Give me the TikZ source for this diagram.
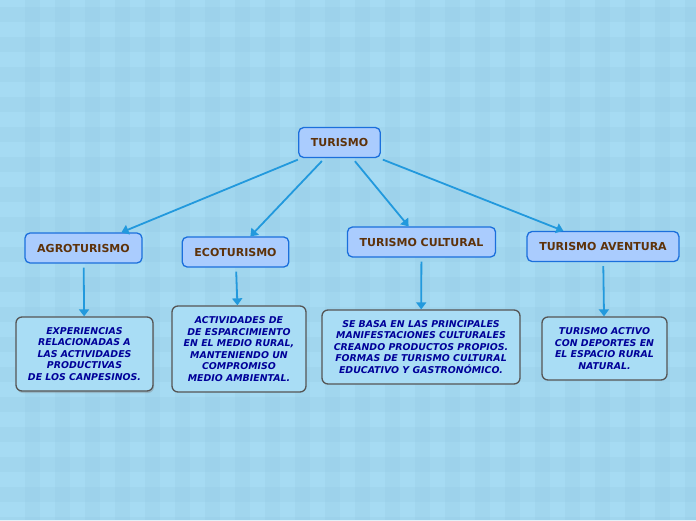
\documentclass[tikz,border=0pt]{standalone}
\usepackage{fontspec}
\setmainfont{DejaVu Sans}
\usepackage{xcolor}
\usetikzlibrary{arrows.meta,shadows}
\definecolor{bgblue}{HTML}{A6DBF3}
\definecolor{bgstripe}{HTML}{93C9E3}
\definecolor{boxfill}{HTML}{AACCFE}
\definecolor{boxline}{HTML}{1B6FDC}
\definecolor{titlebrown}{HTML}{5E320A}
\definecolor{leaftext}{HTML}{000099}
\definecolor{leafline}{HTML}{555555}
\definecolor{leaffill}{HTML}{A9DDF5}
\definecolor{arrowblue}{HTML}{2299DD}

\begin{document}
\begin{tikzpicture}[x=1pt,y=-1pt]

\tikzset{concept/.style={draw=boxline, line width=1.3pt, fill=boxfill, rounded corners=5pt,
            inner xsep=12.2pt, minimum height=30pt, text=titlebrown,
            font=\fontsize{11}{12}\selectfont\bfseries},
        detail/.style={draw=leafline, line width=1.3pt, fill=leaffill, rounded corners=6pt,
            align=center, text=leaftext, font=\fontsize{9.4}{11.5}\selectfont\bfseries\itshape},
        link/.style={draw=arrowblue, line width=1.8pt, -{Triangle[width=10pt,length=7pt]},
            shorten <=4pt}}

% background
\useasboundingbox (0,0) rectangle (696,520);
\fill[bgblue] (0,0) rectangle (696,520);
\foreach \s in {0,30,...,690} {
    \fill[bgstripe,opacity=0.25] (\s+25,0) rectangle (\s+40,520);
}
\foreach \s in {0,30,...,510} {
    \fill[bgstripe,opacity=0.25] (0,\s+7) rectangle (696,\s+22);
}

% main concepts
\node[concept] (turismo) at (339.5,142.5) {TURISMO};
\node[concept] (agro) at (83.5,248) {AGROTURISMO};
\node[concept] (eco) at (235.5,252) {ECOTURISMO};
\node[concept] (cultural) at (421.5,242) {TURISMO CULTURAL};
\node[concept] (aventura) at (603,246.5) {TURISMO AVENTURA};

% descriptions
\node[detail, minimum width=137pt, minimum height=74pt,
      drop shadow={shadow xshift=1pt, shadow yshift=-2pt, opacity=0.35}] (agrotext) at (84.5,354)
    {EXPERIENCIAS\\ RELACIONADAS A\\ LAS ACTIVIDADES\\ PRODUCTIVAS\\ DE LOS CANPESINOS.};
\node[detail, minimum width=134pt, minimum height=86pt] (ecotext) at (239,349)
    {ACTIVIDADES DE\\ DE ESPARCIMIENTO\\ EN EL MEDIO RURAL,\\ MANTENIENDO UN\\ COMPROMISO\\ MEDIO AMBIENTAL.};
\node[detail, minimum width=198pt, minimum height=74pt] (culturaltext) at (421,347)
    {SE BASA EN LAS PRINCIPALES\\ MANIFESTACIONES CULTURALES\\ CREANDO PRODUCTOS PROPIOS.\\ FORMAS DE TURISMO CULTURAL\\ EDUCATIVO Y GASTRONÓMICO.};
\node[detail, minimum width=125pt, minimum height=63pt] (aventuratext) at (604.5,348.5)
    {TURISMO ACTIVO\\ CON DEPORTES EN\\ EL ESPACIO RURAL\\ NATURAL.};

% connectors
\foreach \a/\b in {turismo/agro, turismo/eco, turismo/cultural, turismo/aventura,
                   agro/agrotext, eco/ecotext, cultural/culturaltext, aventura/aventuratext}
    \draw[link] (\a) -- (\b);

\end{tikzpicture}
\end{document}
